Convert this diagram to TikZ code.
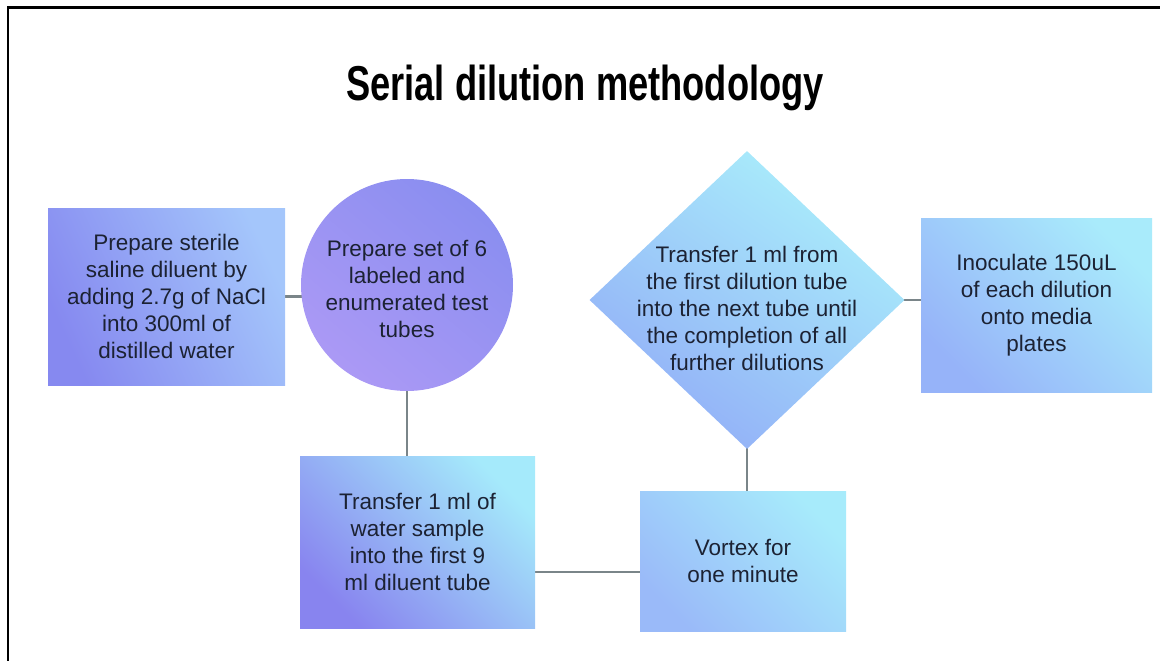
\documentclass[tikz,border=0pt]{standalone}
\usepackage{fontspec}
\setmainfont{Liberation Sans}
\usepackage{graphicx}
\usetikzlibrary{shapes.geometric,backgrounds}
\definecolor{txt}{HTML}{1C2233}
\definecolor{conn}{HTML}{7A8589}
\definecolor{bOneA}{HTML}{8689F0}
\definecolor{bOneB}{HTML}{A4C6FB}
\definecolor{circA}{HTML}{AB99F5}
\definecolor{circB}{HTML}{8A8EF0}
\definecolor{bThrA}{HTML}{8884EF}
\definecolor{bThrB}{HTML}{A5EAFB}
\definecolor{vorA}{HTML}{9ABAF9}
\definecolor{vorB}{HTML}{A7EBFB}
\definecolor{diaA}{HTML}{92AEF7}
\definecolor{diaB}{HTML}{AAEFFB}
\definecolor{inoA}{HTML}{96B3F9}
\definecolor{inoB}{HTML}{A9EBFB}
\tikzset{
  bodytext/.style={text=txt, align=center, font=\fontsize{22.5}{27}\selectfont, inner sep=0pt},
  stepbox/.style={rectangle, inner sep=0pt, draw=none},
  link/.style={draw=conn, line width=2.5pt},
  frameline/.style={draw=black, line width=2.2pt}
}
\begin{document}
\begin{tikzpicture}[x=1pt,y=-1pt]
\useasboundingbox (0,0) rectangle (1160,661);
\draw[frameline] (8,661) -- (8,7.5) -- (1160,7.5);

\node[anchor=base, text=black, inner sep=0pt] (title) at (585,100)
  {\scalebox{0.74}[1]{\fontsize{49}{55}\selectfont\bfseries Serial dilution methodology}};

\node[stepbox, minimum width=237pt, minimum height=177pt,
      bottom color=bOneA, top color=bOneB, shading angle=-65] (prep) at (166.5,296.5) {};
\node[bodytext] (preptxt) at (prep.center)
  {Prepare sterile\\saline diluent by\\adding 2.7g of NaCl\\into 300ml of\\distilled water};

\node[circle, inner sep=0pt, minimum size=212pt,
      bottom color=circA, top color=circB, shading angle=-40] (tubes) at (407,285) {};
\node[bodytext] (tubestxt) at ([yshift=-4pt]tubes.center)
  {Prepare set of 6\\labeled and\\enumerated test\\tubes};

\node[stepbox, minimum width=235pt, minimum height=172pt,
      bottom color=bThrA, top color=bThrB, shading angle=-45] (first) at (417.5,542) {};
\node[bodytext] (firsttxt) at (first.center)
  {Transfer 1 ml of\\water sample\\into the first 9\\ml diluent tube};

\node[stepbox, minimum width=206pt, minimum height=140pt,
      bottom color=vorA, top color=vorB, shading angle=-45] (vortex) at (743,561) {};
\node[bodytext] (vortextxt) at (vortex.center)
  {Vortex for\\one minute};

\node[diamond, inner sep=0pt, aspect=1.06, minimum width=315pt, minimum height=298pt,
      bottom color=diaA, top color=diaB, shading angle=-35] (further) at (747,300) {};
\node[bodytext] (furthertxt) at ([yshift=-8pt]further.center)
  {Transfer 1 ml from\\the first dilution tube\\into the next tube until\\the completion of all\\further dilutions};

\node[stepbox, minimum width=231pt, minimum height=174pt,
      bottom color=inoA, top color=inoB, shading angle=-45] (inoc) at (1036.5,305) {};
\node[bodytext] (inoctxt) at (inoc.center)
  {Inoculate 150uL\\of each dilution\\onto media\\plates};

\begin{scope}[on background layer]
\draw[link] (prep.center) -- (prep.center -| tubes.center);
\draw[link] (tubes.center) -- (tubes.center |- first.center);
\draw[link] ([yshift=-30pt]first.east) -- ([yshift=-30pt]first.east -| vortex.center);
\draw[link] (further.center) -- (further.center |- vortex.center);
\draw[link] (further.center) -- (further.center -| inoc.center);
\end{scope}
\end{tikzpicture}
\end{document}
